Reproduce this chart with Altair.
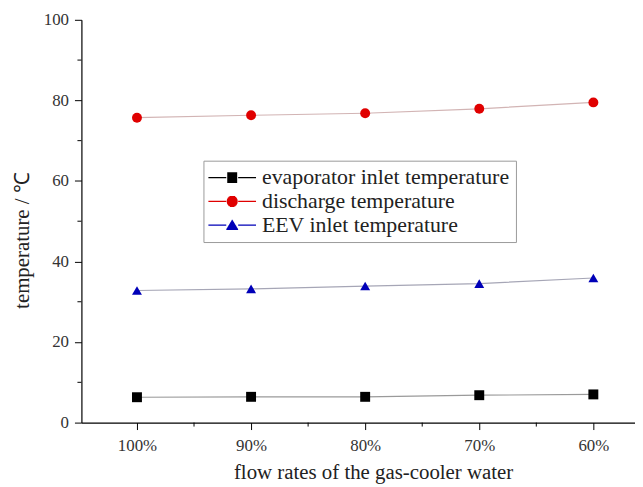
import json
import math
import altair as alt
import pandas as pd

# ---- data ----
categories = ["100%", "90%", "80%", "70%", "60%"]
series_names = ["evaporator inlet temperature", "discharge temperature", "EEV inlet temperature"]
evaporator_inlet = [6.3, 6.4, 6.4, 6.8, 7.0]
discharge = [75.7, 76.3, 76.8, 77.9, 79.5]
eev_inlet = [32.8, 33.2, 33.9, 34.5, 35.9]
y_minor_ticks = [10, 30, 50, 70, 90]
x_minor_ticks = [1.5, 2.5, 3.5, 4.5]

values = [evaporator_inlet, discharge, eev_inlet]
rows = []
for name, vals in zip(series_names, values):
    for i, v in enumerate(vals):
        rows.append({"idx": i + 1, "cat": categories[i], "series": name, "label": name, "temp": v})
df = pd.DataFrame(rows)

FONT = "Liberation Serif"
W, H = 558, 406

marker_colors = ["#000000", "#e00000", "#0000b8"]
line_colors = ["#9a9a9a", "#d2b4b4", "#a6a6b6"]
shapes = ["square", "circle", "triangle-up"]


# legend glyphs (line - marker - line), marker drawn as stacked strokes so the
# per-series stroke colour fills it
def glyph(half_width_at):
    parts = ["M-4.8,0H-1.2", "M1.2,0H4.8"]
    y = -1.1
    while y <= 1.1001:
        hw = half_width_at(y)
        if hw is not None and hw > 0:
            parts.append("M%.3f,%.3fH%.3f" % (-hw, y, hw))
        y += 0.15
    return "".join(parts)


def sq(y):
    return 1.0 if -1.0 <= y <= 1.0 else None


def circ(y):
    r = 1.1
    return math.sqrt(r * r - y * y) if abs(y) < r else None


def tri(y):
    if -1.1 <= y <= 0.95:
        return 1.25 * (y + 1.1) / 2.05
    return None


legend_paths = [glyph(sq), glyph(circ), glyph(tri)]

label_expr = json.dumps(categories) + "[datum.value - 1]"

x_scale = alt.Scale(domain=[0.513, 5.365], nice=False, zero=False)
y_scale = alt.Scale(domain=[0, 100], nice=False)

x_enc = alt.X(
    "idx:Q",
    scale=x_scale,
    axis=alt.Axis(
        values=[1, 2, 3, 4, 5],
        labelExpr=label_expr,
        labelFont=FONT,
        labelFontSize=17,
        titleFont=FONT,
        title="flow rates of the gas-cooler water",
        titleX=294,
        titleY=56,
        titleAlign="center",
        titleBaseline="alphabetic",
    ),
)
y_enc = alt.Y(
    "temp:Q",
    scale=y_scale,
    axis=alt.Axis(
        values=[0, 20, 40, 60, 80, 100],
        labelFont=FONT,
        labelFontSize=17,
        titleFont=FONT,
        title="temperature / ℃",
        titleX=-59,
        titleY=222,
        titleAngle=270,
        titleBaseline="middle",
        titleAlign="center",
    ),
)

lines = alt.Chart(df).mark_line(strokeWidth=1.2).encode(
    x=x_enc,
    y=y_enc,
    color=alt.Color("series:N", sort=series_names,
                    scale=alt.Scale(domain=series_names, range=line_colors), legend=None),
    detail="series:N",
)

points = alt.Chart(df).mark_point(filled=True, opacity=1, size=100).encode(
    x="idx:Q",
    y="temp:Q",
    color=alt.Color("series:N", scale=alt.Scale(domain=series_names, range=marker_colors), legend=None),
    shape=alt.Shape("series:N", scale=alt.Scale(domain=series_names, range=shapes), legend=None),
)

# legend-only layer: no drawn marks (empty after filter), legend from explicit domain
legend_layer = alt.Chart(df).transform_filter("false").mark_point(
    filled=False, opacity=1, strokeWidth=1.2
).encode(
    x="idx:Q",
    y="temp:Q",
    color=alt.Color(
        "label:N",
        sort=series_names,
        scale=alt.Scale(domain=series_names, range=marker_colors),
        legend=alt.Legend(
            title=None,
            orient="none",
            legendX=123,
            legendY=142,
            symbolOpacity=1,
            symbolSize=100,
            symbolStrokeWidth=1.2,
            symbolOffset=12,
            labelFont=FONT,
            labelFontSize=22,
            labelColor="#222222",
            labelOffset=19,
            labelLimit=400,
            rowPadding=2,
            padding=6,
            strokeColor="#9a9a9a",
            fillColor="white",
        ),
    ),
    shape=alt.Shape("label:N", sort=series_names,
                    scale=alt.Scale(domain=series_names, range=legend_paths)),
)

ydf = pd.DataFrame({"v": y_minor_ticks})
y_minor = alt.Chart(ydf).mark_rule(color="#000000", strokeWidth=1).encode(
    y=alt.Y("v:Q"),
    x=alt.value(-4),
    x2=alt.value(0),
)
xdf = pd.DataFrame({"v": x_minor_ticks})
x_minor = alt.Chart(xdf).mark_rule(color="#000000", strokeWidth=1).encode(
    x=alt.X("v:Q"),
    y=alt.value(H),
    y2=alt.value(H + 4),
)

chart = (
    alt.layer(lines, points, legend_layer, y_minor, x_minor)
    .resolve_scale(color="independent", shape="independent")
    .properties(
        width=W,
        height=H,
        autosize=alt.AutoSizeParams(type="none"),
        padding={"left": 74, "top": 10, "right": 0, "bottom": 62},
    )
    .configure_view(stroke=None)
    .configure_axis(
        domainColor="#000000",
        domainWidth=1.2,
        tickColor="#000000",
        tickSize=7,
        grid=False,
        labelFont=FONT,
        labelFontSize=17,
        labelColor="#333333",
        titleFont=FONT,
        titleFontSize=21,
        titleFontWeight="normal",
        titleColor="#222222",
        labelPadding=6,
    )
    .configure_axisX(labelPadding=8)
)

chart.save("out.html", embed_options={"renderer": "svg", "actions": False})
